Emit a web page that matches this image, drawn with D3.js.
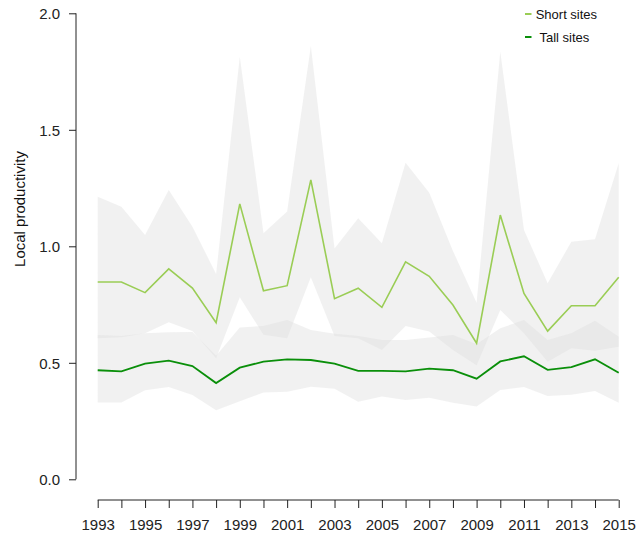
<!DOCTYPE html>
<html>
<head>
<meta charset="utf-8">
<script src="https://cdn.jsdelivr.net/npm/d3@7"></script>
<style>
  html, body { margin: 0; padding: 0; background: #fff; }
  svg { display: block; font-family: "Liberation Sans", Arial, sans-serif; }
</style>
</head>
<body>
<svg id="chart" width="637" height="534"></svg>
<script>
// Survey years
const years = [1993, 1994, 1995, 1996, 1997, 1998, 1999, 2000, 2001, 2002, 2003, 2004,
               2005, 2006, 2007, 2008, 2009, 2010, 2011, 2012, 2013, 2014, 2015];

// Short sites: mean local productivity and its interval
const shortMean  = [0.847, 0.847, 0.801, 0.903, 0.821, 0.672, 1.182, 0.809, 0.831, 1.285, 0.775, 0.820,
                    0.738, 0.933, 0.871, 0.748, 0.584, 1.134, 0.798, 0.636, 0.745, 0.745, 0.867];
const shortUpper = [1.213, 1.170, 1.049, 1.242, 1.084, 0.881, 1.814, 1.056, 1.149, 1.860, 0.991, 1.120,
                    1.013, 1.359, 1.230, 0.980, 0.758, 1.835, 1.070, 0.841, 1.020, 1.030, 1.356];
const shortLower = [0.605, 0.610, 0.627, 0.674, 0.637, 0.520, 0.781, 0.620, 0.605, 0.867, 0.615, 0.605,
                    0.555, 0.658, 0.634, 0.555, 0.490, 0.727, 0.627, 0.505, 0.562, 0.552, 0.569];

// Tall sites: mean local productivity and its interval
const tallMean   = [0.468, 0.463, 0.496, 0.509, 0.486, 0.413, 0.479, 0.505, 0.515, 0.512, 0.496, 0.465,
                    0.465, 0.463, 0.475, 0.468, 0.432, 0.506, 0.528, 0.470, 0.481, 0.515, 0.457];
const tallUpper  = [0.619, 0.615, 0.627, 0.631, 0.632, 0.530, 0.652, 0.658, 0.684, 0.641, 0.625, 0.615,
                    0.598, 0.598, 0.609, 0.619, 0.580, 0.648, 0.684, 0.598, 0.627, 0.681, 0.612];
const tallLower  = [0.330, 0.330, 0.382, 0.396, 0.362, 0.296, 0.335, 0.373, 0.376, 0.397, 0.389, 0.333,
                    0.355, 0.340, 0.350, 0.329, 0.312, 0.383, 0.396, 0.357, 0.363, 0.379, 0.329];

// Axis ticks
const yTicks = [0, 0.5, 1.0, 1.5, 2.0];
const xLabelYears = [1993, 1995, 1997, 1999, 2001, 2003, 2005, 2007, 2009, 2011, 2013, 2015];

const seriesNames = ["Short sites", "Tall sites"];
const colors = { short: "#9acd55", tall: "#0a8f0a" };

const svg = d3.select("#chart");

const x = d3.scaleLinear().domain([1993, 2015]).range([97.7, 618.7]);
const y = d3.scaleLinear().domain([0, 2]).range([479.3, 13.3]);

const shortRows = years.map((yr, i) => ({ yr, m: shortMean[i], lo: shortLower[i], hi: shortUpper[i] }));
const tallRows  = years.map((yr, i) => ({ yr, m: tallMean[i],  lo: tallLower[i],  hi: tallUpper[i] }));

const band = d3.area().x(d => x(d.yr)).y0(d => y(d.lo)).y1(d => y(d.hi));
const line = d3.line().x(d => x(d.yr)).y(d => y(d.m));

// Interval bands (translucent, so overlaps read slightly darker)
const bands = svg.append("g");
[shortRows, tallRows].forEach(rows => {
  bands.append("path")
    .datum(rows)
    .attr("d", band)
    .attr("fill", "#dedede")
    .attr("fill-opacity", 0.42);
});

// Mean lines
svg.append("path").datum(shortRows).attr("d", line)
  .attr("fill", "none").attr("stroke", colors.short).attr("stroke-width", 1.6)
  .attr("stroke-linejoin", "miter");
svg.append("path").datum(tallRows).attr("d", line)
  .attr("fill", "none").attr("stroke", colors.tall).attr("stroke-width", 1.8)
  .attr("stroke-linejoin", "miter");

// Y axis, offset from the plot region
const yAxis = d3.axisLeft(y).tickValues(yTicks).tickFormat(d3.format(".1f")).tickSize(7).tickPadding(9);
const gy = svg.append("g").attr("transform", "translate(76,0)").call(yAxis);
gy.select(".domain").attr("d", `M0,${y(0)}V${y(2)}`).attr("stroke", "#222").attr("stroke-width", 1);
gy.selectAll(".tick line").attr("stroke", "#222");
gy.selectAll(".tick text").attr("font-size", 15).attr("fill", "#222")
  .attr("font-family", "Liberation Sans, Arial, sans-serif").attr("dy", "0.36em");

// X axis, offset below the plot region
const xAxis = d3.axisBottom(x).tickValues(years)
  .tickFormat(d => xLabelYears.includes(d) ? String(d) : "")
  .tickSize(8).tickPadding(11);
const gx = svg.append("g").attr("transform", "translate(0,500)").call(xAxis);
gx.select(".domain").attr("d", `M${x(1993)},0H${x(2015)}`).attr("stroke", "#222").attr("stroke-width", 1);
gx.selectAll(".tick line").attr("stroke", "#222");
gx.selectAll(".tick text").attr("font-size", 15).attr("fill", "#222")
  .attr("font-family", "Liberation Sans, Arial, sans-serif");

// Y axis title
svg.append("text")
  .attr("transform", "translate(25,209) rotate(-90)")
  .attr("text-anchor", "middle")
  .attr("font-size", 15)
  .attr("fill", "#111")
  .text("Local productivity");

// Legend
const legend = svg.append("g");
const legendItems = [
  { name: seriesNames[0], color: colors.short, ly: 14, tx: 535.7 },
  { name: seriesNames[1], color: colors.tall,  ly: 37, tx: 539.5 }
];
legendItems.forEach(it => {
  legend.append("line")
    .attr("x1", 525).attr("x2", 531.5).attr("y1", it.ly).attr("y2", it.ly)
    .attr("stroke", it.color).attr("stroke-width", 2);
  legend.append("text")
    .attr("x", it.tx).attr("y", it.ly + 4.6)
    .attr("font-size", 13).attr("fill", "#111")
    .text(it.name);
});
</script>
</body>
</html>
